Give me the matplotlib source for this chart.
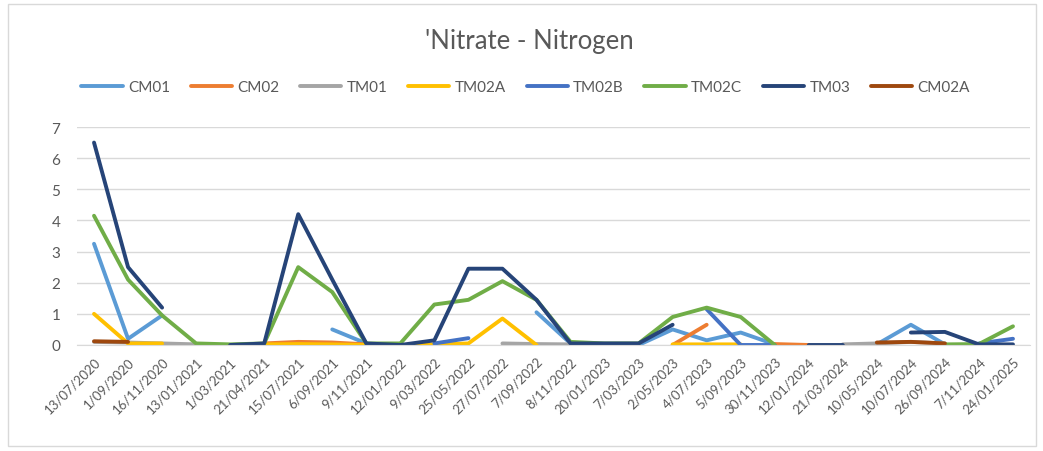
import numpy as np
import matplotlib
matplotlib.use("Agg")
import matplotlib.pyplot as plt
from matplotlib.patches import Rectangle

nan = np.nan

dates = ["13/07/2020", "1/09/2020", "16/11/2020", "13/01/2021", "1/03/2021",
         "21/04/2021", "15/07/2021", "6/09/2021", "9/11/2021", "12/01/2022",
         "9/03/2022", "25/05/2022", "27/07/2022", "7/09/2022", "8/11/2022",
         "20/01/2023", "7/03/2023", "2/05/2023", "4/07/2023", "5/09/2023",
         "30/11/2023", "12/01/2024", "21/03/2024", "10/05/2024", "10/07/2024",
         "26/09/2024", "7/11/2024", "24/01/2025"]

cm01 = [3.25, 0.2, 0.95, nan, nan, nan, nan, 0.5, 0.05, nan, nan, nan, nan, 1.05,
        0.05, nan, 0.0, 0.5, 0.15, 0.4, 0.02, nan, nan, 0.02, 0.65, 0.02, nan, nan]
cm02 = [nan, nan, nan, nan, nan, 0.05, 0.1, 0.08, 0.02, nan, nan, nan, nan, nan,
        nan, nan, nan, 0.0, 0.65, nan, 0.03, 0.0, nan, nan, nan, nan, nan, nan]
tm01 = [0.1, 0.08, 0.05, 0.02, nan, nan, nan, nan, nan, nan, nan, nan, 0.05, 0.03,
        0.02, nan, nan, nan, nan, nan, nan, nan, 0.02, 0.05, 0.1, 0.05, nan, nan]
tm02a = [1.0, 0.05, 0.05, nan, nan, 0.02, 0.03, 0.02, 0.0, 0.0, 0.02, 0.05, 0.85, 0.0,
         nan, nan, nan, 0.02, 0.02, 0.02, nan, nan, nan, nan, nan, nan, nan, nan]
tm02b = [nan, nan, nan, nan, nan, nan, nan, nan, nan, nan, 0.05, 0.22, nan, nan,
         nan, nan, nan, nan, 1.15, 0.0, 0.0, nan, nan, nan, nan, nan, 0.05, 0.2]
tm02c = [4.15, 2.1, 0.95, 0.05, 0.02, 0.05, 2.5, 1.7, 0.05, 0.05, 1.3, 1.45, 2.05, 1.45,
         0.1, 0.05, 0.05, 0.9, 1.2, 0.9, 0.0, nan, nan, nan, nan, 0.02, 0.03, 0.6]
tm03 = [6.5, 2.5, 1.2, nan, 0.0, 0.05, 4.2, 2.1, 0.05, 0.0, 0.15, 2.45, 2.45, 1.45,
        0.05, 0.05, 0.05, 0.65, nan, nan, nan, 0.0, 0.0, nan, 0.4, 0.42, 0.02, 0.02]
cm02a = [0.12, 0.1, nan, nan, nan, nan, nan, nan, nan, nan, nan, nan, nan, nan,
         nan, nan, nan, nan, nan, nan, nan, nan, nan, 0.08, 0.1, 0.05, nan, nan]

series = [("CM01", cm01, "#5B9BD5"), ("CM02", cm02, "#ED7D31"),
          ("TM01", tm01, "#A5A5A5"), ("TM02A", tm02a, "#FFC000"),
          ("TM02B", tm02b, "#4472C4"), ("TM02C", tm02c, "#70AD47"),
          ("TM03", tm03, "#264478"), ("CM02A", cm02a, "#9E480E")]

plt.rcParams["font.family"] = ["Lato", "DejaVu Sans"]
text_col = "#595959"
grid_col = "#D9D9D9"

fig = plt.figure(figsize=(10.43, 4.52), dpi=100)
ax = fig.add_axes([77 / 1043, 1 - 346 / 452, (1030 - 77) / 1043, (346 - 128) / 452])

x = np.arange(len(dates))
for name, vals, col in series:
    ax.plot(x, vals, color=col, lw=2.8, label=name, solid_capstyle="round",
            solid_joinstyle="round")

ax.set_xlim(-0.5, len(dates) - 0.5)
ax.set_ylim(0, 7)
ax.set_yticks(range(0, 8))
ax.yaxis.grid(True, color=grid_col, lw=1)
ax.set_axisbelow(True)
for s in ["top", "right", "left"]:
    ax.spines[s].set_visible(False)
ax.spines["bottom"].set_color(grid_col)
ax.tick_params(length=0, colors=text_col, labelsize=11)
ax.tick_params(axis="y", pad=12)
ax.set_xticks(x)
ax.set_xticklabels(dates, rotation=45, ha="right", rotation_mode="anchor",
                   fontsize=9.5)
ax.tick_params(axis="x", pad=7)

fig.text(0.508, 1 - 42 / 452, "'Nitrate - Nitrogen", ha="center", va="center",
         fontsize=18.5, color=text_col)
fig.legend(loc="center", bbox_to_anchor=(0.504, 1 - 88 / 452), ncol=8,
           frameon=False, fontsize=11, handlelength=2.7, columnspacing=1.35,
           handletextpad=0.35, labelcolor=text_col)

fig.add_artist(Rectangle((8 / 1043, 5 / 452), 1028 / 1043, 442 / 452,
                         transform=fig.transFigure, fill=False, ec=grid_col, lw=1))

fig.savefig("out.png", dpi=100)
